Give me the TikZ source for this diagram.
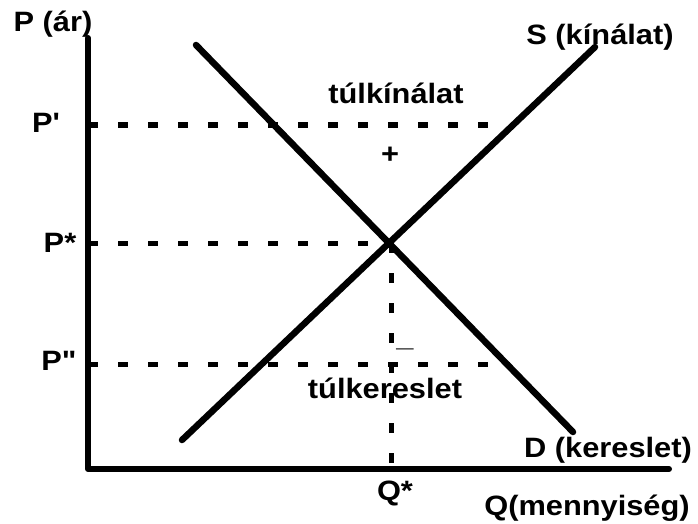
\documentclass[tikz,border=0pt]{standalone}
\usepackage{fontspec}
\newfontfamily\lblfont{Liberation Sans}[FakeStretch=1.1]
\begin{document}
\begin{tikzpicture}[
  x=1pt, y=-1pt,
  every node/.style={font=\lblfont\fontsize{28}{32}\selectfont\bfseries, inner sep=0pt},
  axis/.style={line width=6pt, line cap=round, line join=round},
  curve/.style={line width=6.5pt, line cap=round},
  guide/.style={line width=5pt, dash pattern=on 10pt off 20pt}
]
\useasboundingbox (0,0) rectangle (698,524);
% axes
\coordinate (top) at (88,38);
\coordinate (O) at (88,469);
\coordinate (right) at (669,469);
\draw[axis] (top) -- (O) -- (right);
% demand and supply
\coordinate (D1) at (196,45);
\coordinate (D2) at (573,432);
\coordinate (S1) at (182,440);
\coordinate (S2) at (595,47);
\coordinate (E) at (391,243);
\draw[curve] (D1) -- (D2);
\draw[curve] (S1) -- (S2);
% price levels
\coordinate (Pa) at (88,125);
\coordinate (Pb) at (495,125);
\coordinate (Pc) at (88,243);
\coordinate (Pd) at (88,364);
\coordinate (Pe) at (510,364);
\coordinate (Qb) at (391,469);
\draw[guide] (Pa) -- (Pb);
\draw[guide] (Pc) -- (E);
\draw[guide] (Pd) -- (Pe);
% labels
\node[anchor=base] (Plab) at (53,32) {P (ár)};
\node[anchor=base] (Pp) at (46,132) {P'};
\node[anchor=base] (Ps) at (60,252) {P*};
\node[anchor=base] (Ppp) at (59,370) {P"};
\node[anchor=base] (Slab) at (600,45) {S (kínálat)};
\node[anchor=base] (Dlab) at (608,457) {D (kereslet)};
\node[anchor=base] (surplus) at (396,103) {túlkínálat};
\node (plus) at (390,155) {+};
\node[anchor=base] (shortage) at (385,398) {túlkereslet};
\node[anchor=base] (minus) at (405,346) {\_};
\node[anchor=base] (Qs) at (395,500) {Q*};
\node[anchor=base] (Qlab) at (587,515) {Q(mennyiség)};
\draw[guide] (E) -- (Qb);
\end{tikzpicture}
\end{document}
